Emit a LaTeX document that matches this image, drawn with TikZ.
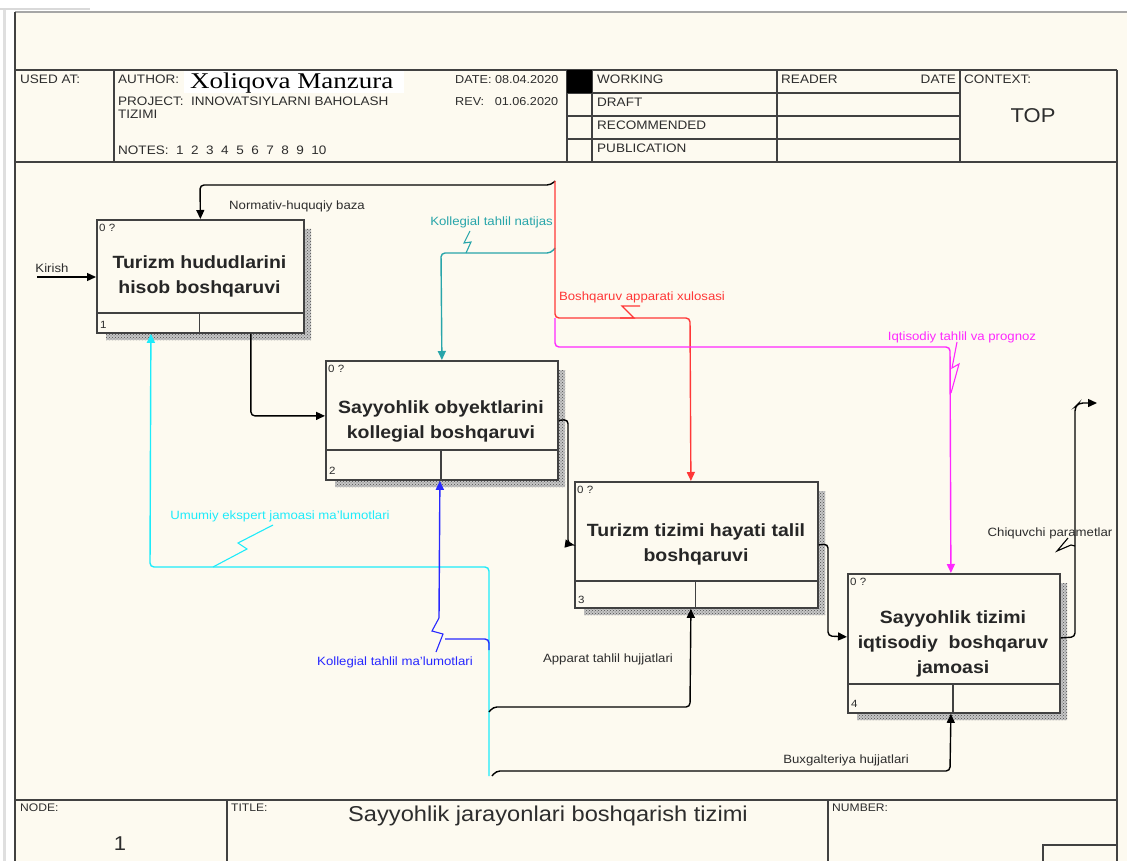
\documentclass[tikz,border=0pt]{standalone}
\usepackage{fontspec}
\setmainfont[FakeStretch=1.1]{Liberation Sans}
\newfontfamily\authorfont[FakeStretch=1.2]{Liberation Serif}
\usetikzlibrary{arrows.meta,patterns}
\definecolor{cream}{RGB}{253,250,240}
\definecolor{frame}{RGB}{65,65,65}
\definecolor{txt}{RGB}{45,45,45}
\definecolor{tealc}{RGB}{40,165,170}
\definecolor{redc}{RGB}{255,55,55}
\definecolor{magc}{RGB}{255,40,255}
\definecolor{cyanc}{RGB}{30,235,250}
\definecolor{bluec}{RGB}{40,40,255}
\tikzset{
  frm/.style={draw=frame, line width=1.8pt},
  thin/.style={draw=frame, line width=1.3pt},
  box/.style={draw=frame, line width=1.8pt, fill=cream, inner sep=0pt, anchor=north west},
  shadowbg/.style={fill=gray!45},
  shadow/.style={pattern=crosshatch dots, pattern color=black!70},
  arr/.style={-{Triangle[length=9pt,width=8pt]}, line width=1.4pt, rounded corners=4pt},
  wire/.style={line width=1.4pt, rounded corners=4pt},
  sq/.style={line width=1.1pt},
  lab/.style={font=\fontsize{12}{13}\selectfont, inner sep=0pt, text=txt},
  hdr/.style={font=\fontsize{12.3}{13}\selectfont, anchor=north west, inner sep=0pt, text=txt},
  btxt/.style={font=\bfseries\fontsize{17.7}{25}\selectfont, align=center, inner sep=0pt, text=black!85},
  small/.style={font=\fontsize{10.5}{11}\selectfont, inner sep=0pt, text=txt}
}
\begin{document}
\begin{tikzpicture}[x=1pt,y=-1pt]
\useasboundingbox (0,0) rectangle (1127,861);
% page
\fill[white] (0,0) rectangle (1127,861);
\draw[gray!25, line width=3pt] (4,10) -- (4,861);
\draw[gray!30, line width=1.5pt] (0,9) -- (90,9);
\fill[cream] (15,12) rectangle (1127,861);
\draw[gray!70, line width=2pt] (15,12) -- (1127,12);
\draw[frame, line width=2.2pt] (15,12) -- (15,861);
% header frame
\draw[frm] (15,70) -- (1117,70);
\draw[frm] (15,162) -- (1117,162);
\draw[frm] (15,800) -- (1117,800);
\draw[frm] (1117,70) -- (1117,861);
\foreach \xx in {114,567,592,777,960} \draw[frm] (\xx,70) -- (\xx,162);
\foreach \yy in {93,116,139} \draw[frm] (567,\yy) -- (960,\yy);
\fill[black] (567,70) rectangle (592,93);
\draw[frm] (227,800) -- (227,861);
\draw[frm] (828,800) -- (828,861);
\draw[frm] (1043,861) -- (1043,845) -- (1117,845);
% header texts
\node[hdr] (usedat) at (20,75) {USED AT:};
\node[hdr] (author) at (118,75) {AUTHOR:};
\fill[white] (184,71) rectangle (404,93);
\node[anchor=west, inner sep=0pt, font=\authorfont\fontsize{22.5}{22}\selectfont] (aname) at (190,83) {Xoliqova Manzura};
\node[hdr] (project) at (118,97) {PROJECT:\ \ INNOVATSIYLARNI BAHOLASH};
\node[hdr] (tizimi) at (118,110) {TIZIMI};
\node[hdr] (notes) at (118,146) {NOTES:\ \ 1\ \ 2\ \ 3\ \ 4\ \ 5\ \ 6\ \ 7\ \ 8\ \ 9\ \ 10};
\node[hdr, font=\fontsize{11.5}{12}\selectfont] (date) at (455,75) {DATE:\ 08.04.2020};
\node[hdr, font=\fontsize{11.5}{12}\selectfont] (rev) at (455,97) {REV:\ \ \ 01.06.2020};
\node[hdr] (working) at (597,75) {WORKING};
\node[hdr] (draft) at (597,98) {DRAFT};
\node[hdr] (recom) at (597,121) {RECOMMENDED};
\node[hdr] (publ) at (597,144) {PUBLICATION};
\node[hdr] (reader) at (781,75) {READER};
\node[hdr, anchor=north east] (rdate) at (956,75) {DATE};
\node[hdr] (context) at (964,75) {CONTEXT:};
\node[inner sep=0pt, font=\fontsize{20}{20}\selectfont, text=txt] (top) at (1033,116) {TOP};
\node[hdr, font=\fontsize{11}{12}\selectfont] (nodel) at (20,804) {NODE:};
\node[inner sep=0pt, font=\fontsize{20}{20}\selectfont, text=txt] (nodenum) at (120,844) {1};
\node[hdr, font=\fontsize{11}{12}\selectfont] (titlel) at (231,804) {TITLE:};
\node[inner sep=0pt, font=\fontsize{21.5}{21}\selectfont, text=txt] (title) at (548,816) {Sayyohlik jarayonlari boshqarish tizimi};
\node[hdr, font=\fontsize{11}{12}\selectfont] (numberl) at (832,804) {NUMBER:};
% shadows
\foreach \st in {shadowbg,shadow}{
\fill[\st] (303,229) -- (311,229) -- (311,340) -- (106,340) -- (106,332) -- (303,332) -- cycle;
\fill[\st] (557,370) -- (565,370) -- (565,487) -- (335,487) -- (335,479) -- (557,479) -- cycle;
\fill[\st] (817,491) -- (825,491) -- (825,615) -- (584,615) -- (584,607) -- (817,607) -- cycle;
\fill[\st] (1059,583) -- (1067,583) -- (1067,720) -- (857,720) -- (857,712) -- (1059,712) -- cycle;
}
% boxes
\node[box, minimum width=207pt, minimum height=113pt] (b1) at (96,219) {};
\node[box, minimum width=232pt, minimum height=119pt] (b2) at (325,360) {};
\node[box, minimum width=243pt, minimum height=126pt] (b3) at (574,481) {};
\node[box, minimum width=212pt, minimum height=139pt] (b4) at (847,573) {};
\draw[thin] (96,313) -- (303,313) (199.5,313) -- (199.5,332);
\draw[thin] (325,450) -- (557,450) (441,450) -- (441,479);
\draw[thin] (574,581) -- (817,581) (695.5,581) -- (695.5,607);
\draw[thin] (847,684) -- (1059,684) (953,684) -- (953,712);
\node[btxt] (t1) at (199.5,276) {Turizm hududlarini\\hisob boshqaruvi};
\node[btxt] (t2) at (441,421) {Sayyohlik obyektlarini\\kollegial boshqaruvi};
\node[btxt] (t3) at (696,544) {Turizm tizimi hayati talil\\boshqaruvi};
\node[btxt] (t4) at (953,644) {Sayyohlik tizimi\\iqtisodiy\ \ boshqaruv\\jamoasi};
\node[small, anchor=north west] (q1) at (99,224) {0 ?};
\node[small, anchor=north west] (q2) at (328,365) {0 ?};
\node[small, anchor=north west] (q3) at (577,486) {0 ?};
\node[small, anchor=north west] (q4) at (850,578) {0 ?};
\node[small, anchor=south west] (n1) at (100,329) {1};
\node[small, anchor=south west] (n2) at (329,475) {2};
\node[small, anchor=south west] (n3) at (578,604) {3};
\node[small, anchor=south west] (n4) at (851,708) {4};
% free ends
\coordinate (src) at (555,181);
\coordinate (kin) at (37,277);
\coordinate (outend) at (1097,403);
\coordinate (cyb) at (489,776);
\coordinate (apst) at (489,712);
\coordinate (bxst) at (492,776);
\coordinate (blst) at (439,618);
% connectors
\draw[arr] (kin) -- (kin -| b1.west);
\draw[arr] (src) -- (551,185) -- (200,185) -- (b1.north);
\draw[arr, tealc] (555,248) -- (551,253) -- (441,253) -- (b2.north);
\draw[arr, redc] (src) -- (555,318) -- (690,318) -- ([xshift=-5.5pt]b3.north);
\draw[arr, magc] (555,318) -- (555,347) -- (950,347) -- ([xshift=-3pt]b4.north);
\draw[arr] ([xshift=50.5pt]b1.south) |- ([yshift=4.5pt]b2.west);
\draw[arr] (b2.east) -- (568,419.5) -- (568,544) -- (b3.west);
\draw[arr] (b3.east) -- (828,544) -- (828,636) -- ([yshift=6.5pt]b4.west);
\draw[arr] ([yshift=5.5pt]b4.east) -- (1075,637) -- (1075,407) -- (1079,403) -- (outend);
\draw[arr, cyanc] (cyb) -- (489,567) -- (150,567) -- ([xshift=-49.5pt]b1.south);
\draw[arr, bluec] (blst) -- ([xshift=-2pt]b2.south);
\draw[wire, bluec] (489,650) -- (489,639) -- (445,639);
\draw[arr] (apst) -- (493,707) -- (690,707) -- ([xshift=-5.5pt]b3.south);
\draw[arr] (bxst) -- (496,771) -- (950,771) -- ([xshift=-3pt]b4.south);
% labels
\node[lab] (lkirish) at (52,268) {Kirish};
\node[lab] (lnorm) at (297,206) {Normativ-huquqiy baza};
\node[lab, text=tealc, anchor=east] (lkol) at (553,222) {Kollegial tahlil natijas};
\node[lab, text=redc] (lbosh) at (642,297) {Boshqaruv apparati xulosasi};
\node[lab, text=magc] (liqt) at (962,337) {Iqtisodiy tahlil va prognoz};
\node[lab, text=cyanc] (lumum) at (280,516) {Umumiy ekspert jamoasi ma'lumotlari};
\node[lab, text=bluec] (lkolm) at (395,662) {Kollegial tahlil ma'lumotlari};
\node[lab] (lapp) at (608,659) {Apparat tahlil hujjatlari};
\node[lab] (lbux) at (846,760) {Buxgalteriya hujjatlari};
\node[lab] (lchiq) at (1050,533) {Chiquvchi parametlar};
% squiggles
\draw[sq, tealc] (470,231) -- (464,243) -- (471,242) -- (466,253);
\draw[sq, redc] (640,306) -- (622,306) -- (634,318) -- (620,318);
\draw[sq, magc] (957,342) -- (952,368) -- (959,364) -- (951,393);
\draw[sq, cyanc] (273,525) -- (238,543) -- (247,549) -- (213,567);
\draw[sq, bluec] (439,618) -- (432,631) -- (443,634) -- (436,652);
\draw[sq] (1068,538) -- (1057,551) -- (1071,545) -- (1075,546);
\end{tikzpicture}
\end{document}
